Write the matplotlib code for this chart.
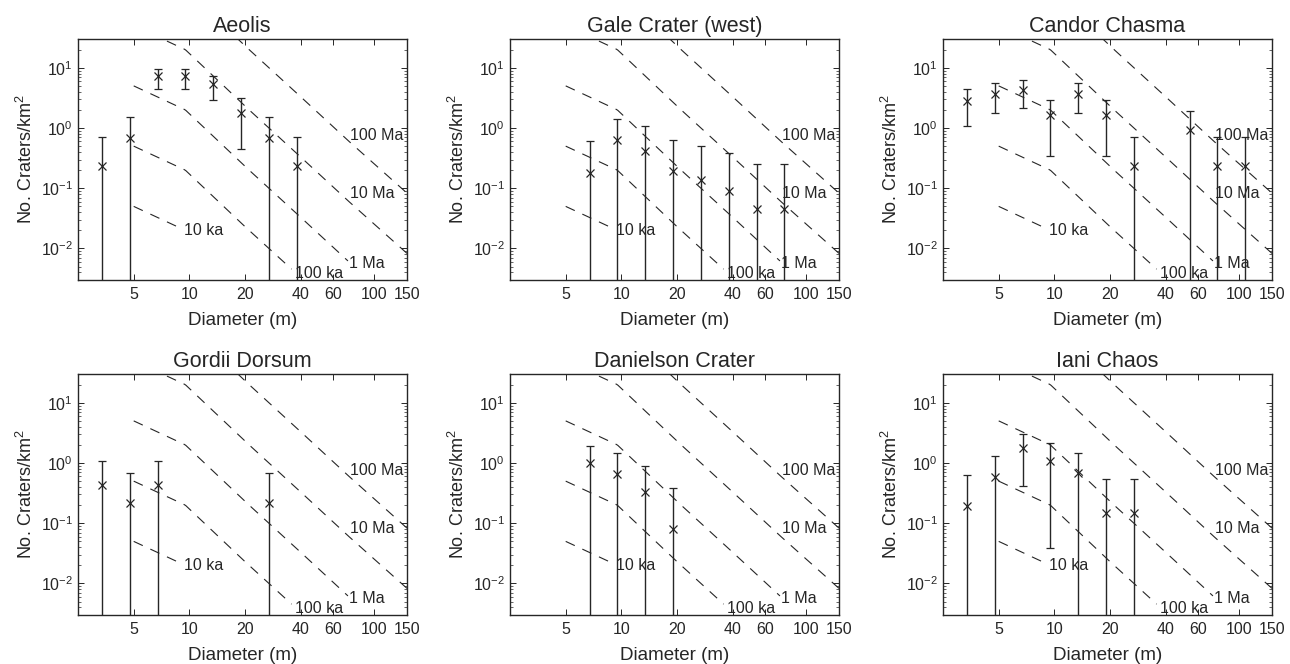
import numpy as np
import matplotlib
matplotlib.use('Agg')
import matplotlib.pyplot as plt
from matplotlib.ticker import FixedLocator, FixedFormatter, LogLocator, NullFormatter

plt.rcParams['font.family'] = ['Liberation Sans', 'DejaVu Sans']
plt.rcParams['mathtext.default'] = 'regular'

# bin centre diameters (m)
bins = [3.36, 4.76, 6.73, 9.51, 13.45, 19.0, 26.9, 38.0, 53.8, 76.1, 107.6]

# 10 ka isochron (craters/km^2), the other ages scale with age
iso_d = [5, 9.5, 20, 35, 70, 150]
iso_n = [0.05, 0.02, 0.0023, 0.00048, 0.000067, 0.0000083]
iso_ages = ['10 ka', '100 ka', '1 Ma', '10 Ma', '100 Ma']
iso_scale = [1, 10, 100, 1000, 10000]
iso_dmax = [9.4, 36, 72, 150, 150]

# per site: bin index, density, upper, lower (0 = off the bottom)
titles = ['Aeolis', 'Gale Crater (west)', 'Candor Chasma',
          'Gordii Dorsum', 'Danielson Crater', 'Iani Chaos']

aeolis_i = [0, 1, 2, 3, 4, 5, 6, 7]
aeolis_n = [0.23, 0.68, 7.3, 7.3, 5.3, 1.78, 0.68, 0.23]
aeolis_hi = [0.71, 1.53, 9.7, 9.7, 7.4, 3.1, 1.5, 0.71]
aeolis_lo = [0, 0, 4.5, 4.5, 2.9, 0.45, 0, 0]

gale_i = [2, 3, 4, 5, 6, 7, 8, 9]
gale_n = [0.178, 0.64, 0.42, 0.195, 0.137, 0.09, 0.045, 0.045]
gale_hi = [0.6, 1.43, 1.07, 0.64, 0.51, 0.39, 0.25, 0.25]
gale_lo = [0, 0, 0, 0, 0, 0, 0, 0]

candor_i = [0, 1, 2, 3, 4, 5, 6, 8, 9, 10]
candor_n = [2.8, 3.7, 4.2, 1.67, 3.7, 1.67, 0.23, 0.94, 0.23, 0.23]
candor_hi = [4.5, 5.6, 6.2, 2.97, 5.6, 2.97, 0.71, 1.9, 0.71, 0.71]
candor_lo = [1.09, 1.78, 2.15, 0.345, 1.78, 0.345, 0, 0, 0, 0]

gordii_i = [0, 1, 2, 6]
gordii_n = [0.43, 0.215, 0.43, 0.215]
gordii_hi = [1.09, 0.67, 1.09, 0.67]
gordii_lo = [0, 0, 0, 0]

daniel_i = [2, 3, 4, 5]
daniel_n = [0.99, 0.66, 0.33, 0.081]
daniel_hi = [1.95, 1.47, 0.9, 0.38]
daniel_lo = [0, 0, 0, 0]

iani_i = [0, 1, 2, 3, 4, 5, 6]
iani_n = [0.19, 0.58, 1.75, 1.09, 0.68, 0.15, 0.15]
iani_hi = [0.63, 1.32, 3.04, 2.15, 1.47, 0.55, 0.55]
iani_lo = [0, 0, 0.42, 0.039, 0, 0, 0]

sites = [(aeolis_i, aeolis_n, aeolis_hi, aeolis_lo),
         (gale_i, gale_n, gale_hi, gale_lo),
         (candor_i, candor_n, candor_hi, candor_lo),
         (gordii_i, gordii_n, gordii_hi, gordii_lo),
         (daniel_i, daniel_n, daniel_hi, daniel_lo),
         (iani_i, iani_n, iani_hi, iani_lo)]

xticks = [5, 10, 20, 40, 60, 100, 150]
label_pos = [(9.4, 0.02), (37, 0.0038), (73, 0.0056), (74, 0.083), (74, 0.76)]

col_left = [78, 510, 943]
row_top = [39, 374]
W, H = 1290, 664
ink = '#262626'

fig = plt.figure(figsize=(12.9, 6.64), dpi=100)

for k, (idx, n, hi, lo) in enumerate(sites):
    r, c = divmod(k, 3)
    ax = fig.add_axes([col_left[c] / W, 1 - (row_top[r] + 241) / H, 329 / W, 241 / H])
    ax.set_xscale('log')
    ax.set_yscale('log')

    # isochrons
    dd = np.geomspace(5, 150, 200)
    base = 10 ** np.interp(np.log10(dd), np.log10(iso_d), np.log10(iso_n))
    for age, s, dmax, (lx, ly) in zip(iso_ages, iso_scale, iso_dmax, label_pos):
        m = dd <= dmax
        ax.plot(dd[m], base[m] * s, color=ink, lw=0.8, dashes=(9, 7.5))
        ax.text(lx, ly, age, fontsize=11.5, color=ink, va='center', ha='left')

    d = np.array([bins[i] for i in idx])
    n = np.array(n)
    lo_c = np.maximum(np.array(lo, dtype=float), 1e-5)
    yerr = [n - lo_c, np.array(hi) - n]
    ax.errorbar(d, n, yerr=yerr, fmt='x', color=ink, ecolor=ink, ms=5.5, mew=0.9,
                elinewidth=1.0, capsize=3.2, capthick=1.0)

    ax.set_xlim(2.5, 150)
    ax.set_ylim(0.003, 30)
    ax.xaxis.set_major_locator(FixedLocator(xticks))
    ax.xaxis.set_major_formatter(FixedFormatter([str(t) for t in xticks]))
    ax.xaxis.set_minor_locator(FixedLocator([]))
    ax.yaxis.set_major_locator(FixedLocator([1e-2, 1e-1, 1, 10]))
    ax.yaxis.set_major_formatter(FixedFormatter(['$10^{-2}$', '$10^{-1}$', '$10^{0}$', '$10^{1}$']))
    ax.yaxis.set_minor_locator(LogLocator(base=10, subs=np.arange(2, 10)))
    ax.yaxis.set_minor_formatter(NullFormatter())
    ax.tick_params(which='both', direction='in', top=True, right=True, colors=ink,
                   labelsize=11.5)
    ax.tick_params(axis='x', which='major', pad=5)
    ax.tick_params(which='major', length=4, width=0.7)
    ax.tick_params(which='minor', length=2, width=0.5)
    for sp in ax.spines.values():
        sp.set_color(ink)
        sp.set_linewidth(1.0)

    ax.set_title(titles[k], fontsize=15.5, color=ink, pad=5)
    ax.set_xlabel('Diameter (m)', fontsize=13.5, color=ink, labelpad=7)
    ax.set_ylabel('No. Craters/km$^2$', fontsize=13, color=ink, labelpad=3.5)

plt.savefig('out.png', dpi=100)
